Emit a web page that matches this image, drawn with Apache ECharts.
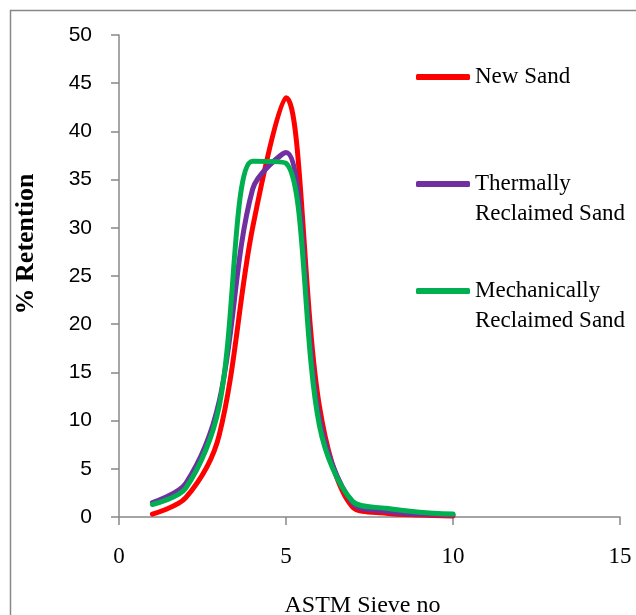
<!DOCTYPE html>
<html>
<head>
<meta charset="utf-8">
<script src="https://cdn.jsdelivr.net/npm/echarts@6/dist/echarts.min.js"></script>
<style>
html,body{margin:0;padding:0;background:#fff;}
#c{width:636px;height:615px;}
</style>
</head>
<body>
<div id="c"></div>
<script>
const sieveNo = [1, 2, 3, 4, 5, 6, 7, 8, 9, 10];
const newSand = [0.3, 2.0, 8.5, 30.0, 43.5, 11.5, 1.0, 0.4, 0.2, 0.1];
const thermallySand = [1.5, 3.5, 12.0, 34.0, 37.8, 10.3, 1.4, 0.6, 0.3, 0.2];
const mechanicallySand = [1.3, 3.0, 11.5, 36.9, 36.7, 9.5, 1.6, 0.9, 0.5, 0.3];
const seriesNames = ['New Sand', 'Thermally\nReclaimed Sand', 'Mechanically\nReclaimed Sand'];
const xTicks = [0, 5, 10, 15];
const yTicks = [0, 5, 10, 15, 20, 25, 30, 35, 40, 45, 50];

const colors = ['#FF0000', '#7030A0', '#00B050'];
const allValues = [newSand, thermallySand, mechanicallySand];

const chart = echarts.init(document.getElementById('c'), null, {renderer: 'canvas'});

function mkLegend(idx, top, twoLine) {
  return {
    left: 416,
    top: top,
    padding: 0,
    orient: 'vertical',
    data: [seriesNames[idx]],
    icon: 'roundRect',
    itemWidth: 54,
    itemHeight: 6,
    itemGap: 0,
    selectedMode: false,
    formatter: twoLine ? (n => '\n' + n) : (n => n),
    textStyle: {
      fontFamily: 'Liberation Serif',
      fontSize: 23,
      color: '#000',
      lineHeight: 30
    }
  };
}

const option = {
  animation: false,
  backgroundColor: '#fff',
  graphic: [{
    type: 'rect',
    shape: {x: 10.5, y: 10.5, width: 700, height: 700},
    style: {fill: 'none', stroke: '#888', lineWidth: 1.5},
    silent: true,
    z: -10
  }],
  grid: {left: 119, right: 16, top: 35, bottom: 98, containLabel: false, outerBoundsMode: 'none'},
  legend: [mkLegend(0, 62, false), mkLegend(1, 139, true), mkLegend(2, 246, true)],
  xAxis: {
    type: 'value',
    min: xTicks[0],
    max: xTicks[xTicks.length - 1],
    interval: 5,
    name: 'ASTM Sieve no',
    nameLocation: 'middle',
    nameGap: 77,
    nameTextStyle: {fontFamily: 'Liberation Serif', fontSize: 24, color: '#000', padding: [0, 14, 0, 0]},
    axisLine: {show: true, lineStyle: {color: '#888', width: 1.5}},
    axisTick: {show: true, length: 8, lineStyle: {color: '#888', width: 1.5}},
    splitLine: {show: false},
    axisLabel: {fontFamily: 'Liberation Serif', fontSize: 23, color: '#000', margin: 28}
  },
  yAxis: {
    type: 'value',
    min: yTicks[0],
    max: yTicks[yTicks.length - 1],
    interval: 5,
    name: '% Retention',
    nameLocation: 'middle',
    nameRotate: 90,
    nameGap: 80,
    nameTextStyle: {fontFamily: 'Liberation Serif', fontSize: 26, fontWeight: 'bold', color: '#000', padding: [0, 0, 0, 64]},
    axisLine: {show: true, lineStyle: {color: '#888', width: 1.5}},
    axisTick: {show: true, length: 8, lineStyle: {color: '#888', width: 1.5}},
    splitLine: {show: false},
    axisLabel: {fontFamily: 'Liberation Sans', fontSize: 21, color: '#000', margin: 27}
  },
  series: allValues.map((vals, i) => ({
    type: 'line',
    name: seriesNames[i],
    data: sieveNo.map((x, j) => [x, vals[j]]),
    smooth: 0.33,
    showSymbol: false,
    symbol: 'none',
    color: colors[i],
    lineStyle: {color: colors[i], width: 5, cap: 'round', join: 'round'},
    z: 2 + i
  }))
};
chart.setOption(option);
</script>
</body>
</html>
